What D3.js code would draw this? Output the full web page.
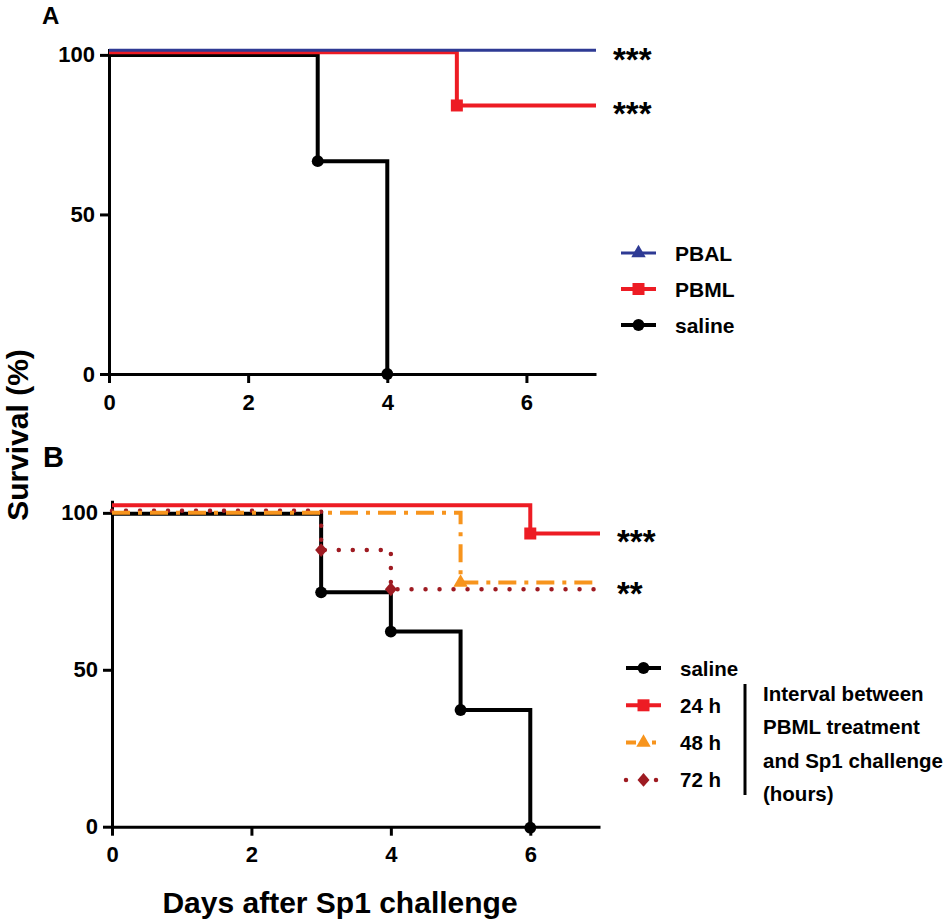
<!DOCTYPE html>
<html>
<head>
<meta charset="utf-8">
<script src="https://cdn.jsdelivr.net/npm/d3@7"></script>
<style>
  body { margin: 0; background: #fff; }
  svg text { font-family: "Liberation Sans", Arial, sans-serif; font-weight: bold; fill: #000; }
</style>
</head>
<body>
<svg id="chart" width="945" height="922"></svg>
<script>
// ---- data ----
const xTicks = [0, 2, 4, 6];
const yTicks = [0, 50, 100];

// panel A
const groupsA = ["PBAL", "PBML", "saline"];
const pbalDays = [0, 7];
const pbalSurv = [100, 100];
const pbmlDays = [0, 5, 7];
const pbmlSurv = [100, 83.3, 83.3];
const salineADays = [0, 3, 4];
const salineASurv = [100, 66.7, 0];
const sigA = ["***", "***"]; // PBAL, PBML

// panel B
const groupsB = ["saline", "24 h", "48 h", "72 h"];
const salineBDays = [0, 3, 4, 5, 6];
const salineBSurv = [100, 75, 62.5, 37.5, 0];
const h24Days = [0, 6, 7];
const h24Surv = [100, 91, 91];
const h48Days = [0, 5, 7];
const h48Surv = [100, 77.8, 77.8];
const h72Days = [0, 3, 4, 7];
const h72Surv = [100, 87.5, 75, 75];
const sigB = ["***", "**"]; // 24 h, 48 h
const noteB = ["Interval between", "PBML treatment", "and Sp1 challenge", "(hours)"];

const svg = d3.select("#chart");

const diamond = {
    draw(ctx, size) {
        const r = Math.sqrt(size / 2);
        ctx.moveTo(0, -r * 1.1); ctx.lineTo(r * 0.95, 0); ctx.lineTo(0, r * 1.1); ctx.lineTo(-r * 0.95, 0); ctx.closePath();
    }
};

const pts = (days, surv) => days.map((d, i) => [d, surv[i]]);

function drawPanel(p) {
    const x = d3.scaleLinear().domain([0, 7]).range([p.left, p.right]);
    const y = d3.scaleLinear().domain([0, p.yMax]).range([p.bottom, p.top]);

    const xa = svg.append("g")
        .attr("transform", `translate(0,${p.bottom})`)
        .call(d3.axisBottom(x).tickValues(xTicks).tickFormat(d3.format("d"))
            .tickSize(9).tickSizeOuter(0).tickPadding(11));
    const ya = svg.append("g")
        .attr("transform", `translate(${p.left},0)`)
        .call(d3.axisLeft(y).tickValues(yTicks).tickFormat(d3.format("d"))
            .tickSize(9).tickSizeOuter(0).tickPadding(5));
    [xa, ya].forEach(g => {
        g.selectAll("path, line").attr("stroke", "#000").attr("stroke-width", 3);
        g.selectAll("text").attr("font-size", 22).attr("font-family", "Liberation Sans, Arial").attr("font-weight", "bold");
    });

    p.series.forEach(s => {
        const line = d3.line()
            .x(d => x(d[0]))
            .y(d => y(d[1]) + s.nudge)
            .curve(d3.curveStepAfter);
        svg.append("path")
            .attr("d", line(s.data))
            .attr("fill", "none")
            .attr("stroke", s.color)
            .attr("stroke-width", s.width)
            .attr("stroke-dasharray", s.dash || null)
            .attr("stroke-linecap", s.cap || "butt");

        // markers where the curve steps down
        const drops = s.data.filter((d, i) => i > 0 && d[1] < s.data[i - 1][1]);
        svg.selectAll(null)
            .data(drops)
            .join("path")
            .attr("transform", d => `translate(${x(d[0])},${y(d[1]) + s.nudge})`)
            .attr("d", d3.symbol().type(s.symbol).size(s.size))
            .attr("fill", s.color);

        if (s.sig) {
            const last = s.data[s.data.length - 1];
            svg.append("text")
                .attr("x", x(7) + 17)
                .attr("y", y(last[1]) + s.nudge + s.sigDy)
                .attr("font-size", 33)
                .text(s.sig);
        }
    });

    // legend
    p.series.slice().sort((a, b) => a.legendOrder - b.legendOrder).forEach((s, i) => {
        const ly = p.legendY + i * p.legendStep;
        svg.append("line")
            .attr("x1", p.legendX).attr("x2", p.legendX + 35)
            .attr("y1", ly).attr("y2", ly)
            .attr("stroke", s.color)
            .attr("stroke-width", s.width)
            .attr("stroke-dasharray", s.legendDash || s.dash || null)
            .attr("stroke-linecap", s.cap || "butt");
        svg.append("path")
            .attr("transform", `translate(${p.legendX + 17.5},${ly})`)
            .attr("d", d3.symbol().type(s.symbol).size(s.size))
            .attr("fill", s.color);
        svg.append("text")
            .attr("x", p.legendX + 54)
            .attr("y", ly + 7.5)
            .attr("font-size", p.legendFont)
            .text(s.name);
    });
}

// panel A
drawPanel({
    left: 109, right: 596, top: 48.5, bottom: 374, yMax: 102,
    legendX: 621, legendY: 253, legendStep: 36, legendFont: 21,
    series: [
        {name: groupsA[2], data: pts(salineADays, salineASurv), color: "#000", width: 4, symbol: d3.symbolCircle, size: 110, nudge: 0, legendOrder: 2},
        {name: groupsA[1], data: pts(pbmlDays, pbmlSurv), color: "#ed1c24", width: 4, symbol: d3.symbolSquare, size: 144, nudge: -2.7, sig: sigA[1], sigDy: 20, legendOrder: 1},
        {name: groupsA[0], data: pts(pbalDays, pbalSurv), color: "#2e3a94", width: 3, symbol: d3.symbolTriangle, size: 90, nudge: -4.7, sig: sigA[0], sigDy: 21, legendOrder: 0}
    ]
});

// panel B
drawPanel({
    left: 112, right: 600, top: 500.3, bottom: 826.7, yMax: 104,
    legendX: 626, legendY: 668, legendStep: 37.3, legendFont: 20.5,
    series: [
        {name: groupsB[0], data: pts(salineBDays, salineBSurv), color: "#000", width: 4, symbol: d3.symbolCircle, size: 110, nudge: 1, legendOrder: 0},
        {name: groupsB[3], data: pts(h72Days, h72Surv), color: "#9e1b22", width: 4.5, dash: "0 14", cap: "round", symbol: diamond, size: 80, nudge: -2, legendOrder: 3, legendDash: "0 15"},
        {name: groupsB[2], data: pts(h48Days, h48Surv), color: "#f7941d", width: 4, dash: "18 8 4 8", symbol: d3.symbolTriangle, size: 90, nudge: 0, sig: sigB[1], sigDy: 22, legendOrder: 2, legendDash: "10 16 4 10"},
        {name: groupsB[1], data: pts(h24Days, h24Surv), color: "#ed1c24", width: 4, symbol: d3.symbolSquare, size: 144, nudge: -7.6, sig: sigB[0], sigDy: 19, legendOrder: 1}
    ]
});

// bracket note in panel B legend
svg.append("line")
    .attr("x1", 745).attr("x2", 745)
    .attr("y1", 684).attr("y2", 795)
    .attr("stroke", "#000").attr("stroke-width", 3);
svg.append("g").selectAll("text")
    .data(noteB)
    .join("text")
    .attr("x", 763)
    .attr("y", (d, i) => 701 + i * 33.3)
    .attr("font-size", 20.5)
    .text(d => d);

// panel letters and axis titles
svg.append("text").attr("x", 42).attr("y", 24).attr("font-size", 24).text("A");
svg.append("text").attr("x", 43).attr("y", 467).attr("font-size", 29).text("B");
svg.append("text")
    .attr("transform", "translate(28,435) rotate(-90)")
    .attr("text-anchor", "middle")
    .attr("font-size", 30)
    .text("Survival (%)");
svg.append("text")
    .attr("x", 340).attr("y", 913)
    .attr("text-anchor", "middle")
    .attr("font-size", 30)
    .text("Days after Sp1 challenge");
</script>
</body>
</html>
